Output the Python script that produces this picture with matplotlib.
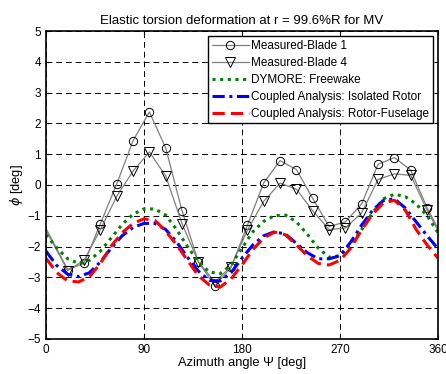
import numpy as np
import matplotlib
matplotlib.use("Agg")
import matplotlib.pyplot as plt

plt.rcParams['font.family'] = ['Liberation Sans', 'DejaVu Sans']

# Measured data (periodic wrap at both ends)
meas_az = [-10, 20, 35, 50, 65, 80, 95, 110, 125, 140, 155, 170, 185, 200, 215,
           230, 245, 260, 275, 290, 305, 320, 335, 350, 380]
blade1 = [-0.74, -2.75, -2.55, -1.26, 0.03, 1.44, 2.37, 1.20, -0.84, -2.50, -3.28,
          -2.68, -1.31, 0.07, 0.79, 0.50, -0.44, -1.35, -1.20, -0.61, 0.67, 0.89,
          0.48, -0.74, -2.75]
blade4 = [-0.82, -2.78, -2.45, -1.45, -0.37, 0.45, 1.07, 0.29, -1.26, -2.50, -3.15,
          -2.65, -1.47, -0.53, 0.06, -0.14, -0.84, -1.45, -1.40, -0.90, 0.18, 0.36,
          0.31, -0.82, -2.78]

# Computed curves at 10 deg spacing
az = list(range(0, 361, 10))
dymore = [-1.62, -2.05, -2.40, -2.55, -2.45, -2.15, -1.72, -1.28, -0.95, -0.78,
          -0.78, -0.98, -1.45, -2.00, -2.50, -2.83, -2.88, -2.60, -2.05, -1.52,
          -1.18, -1.00, -0.98, -1.20, -1.60, -2.05, -2.35, -2.30, -1.95, -1.45,
          -0.90, -0.45, -0.30, -0.38, -0.62, -1.00, -1.55]
isolated = [-2.15, -2.62, -2.90, -2.98, -2.85, -2.50, -2.05, -1.65, -1.38, -1.25,
            -1.25, -1.45, -1.85, -2.35, -2.80, -3.10, -3.12, -2.85, -2.38, -1.95,
            -1.65, -1.52, -1.60, -1.90, -2.20, -2.40, -2.40, -2.30, -1.85, -1.30,
            -0.82, -0.50, -0.45, -0.75, -1.20, -1.65, -2.07]
fuselage = [-2.38, -2.85, -3.12, -3.15, -2.98, -2.55, -1.98, -1.55, -1.25, -1.10,
            -1.15, -1.50, -1.95, -2.45, -2.95, -3.25, -3.32, -3.05, -2.60, -2.10,
            -1.72, -1.53, -1.62, -1.95, -2.30, -2.55, -2.60, -2.45, -2.05, -1.45,
            -0.95, -0.58, -0.50, -0.82, -1.45, -1.95, -2.38]

xticks = [0, 90, 180, 270, 360]
yticks = list(range(-5, 6))

fig = plt.figure(figsize=(4.46, 3.74), dpi=100)
ax = fig.add_axes([0.103, 0.094, 0.879, 0.823])

ax.plot(meas_az, blade1, color='#808080', lw=0.9, marker='o', ms=6,
        mfc='none', mec='black', mew=0.7, label='Measured-Blade 1')
ax.plot(meas_az, blade4, color='#808080', lw=0.9, marker='v', ms=6.5,
        mfc='none', mec='black', mew=0.7, label='Measured-Blade 4')
ax.plot(az, dymore, color='#008000', lw=2.2, ls=(0, (1, 1.5)),
        label='DYMORE: Freewake')
ax.plot(az, isolated, color='#0000ff', lw=2.2, ls=(0, (4, 1.5, 1, 1.5)),
        label='Coupled Analysis: Isolated Rotor')
ax.plot(az, fuselage, color='#ff0000', lw=2.2, ls=(0, (4, 2)),
        label='Coupled Analysis: Rotor-Fuselage')

ax.set_xlim(0, 360)
ax.set_ylim(-5, 5)
ax.set_xticks(xticks)
ax.set_yticks(yticks)
ax.tick_params(direction='in', labelsize=8.5, length=3, top=True, right=True)
ax.grid(True, color='black', ls=(0, (6, 4)), lw=0.7)
for s in ax.spines.values():
    s.set_linewidth(1.2)

ax.set_title('Elastic torsion deformation at r = 99.6%R for MV', fontsize=9.5, pad=5)
ax.set_xlabel('Azimuth angle \u03a8 [deg]', fontsize=9.3, labelpad=1)
ax.set_ylabel(r'$\phi$ [deg]', fontsize=9.3, labelpad=2)

leg = ax.legend(loc='upper right', fontsize=8.5, fancybox=False, framealpha=1,
                edgecolor='black', borderpad=0.3, labelspacing=0.42,
                handlelength=3.2, handletextpad=0.15, borderaxespad=0.45)
leg.get_frame().set_linewidth(1.0)

fig.savefig('out.png', dpi=100)
